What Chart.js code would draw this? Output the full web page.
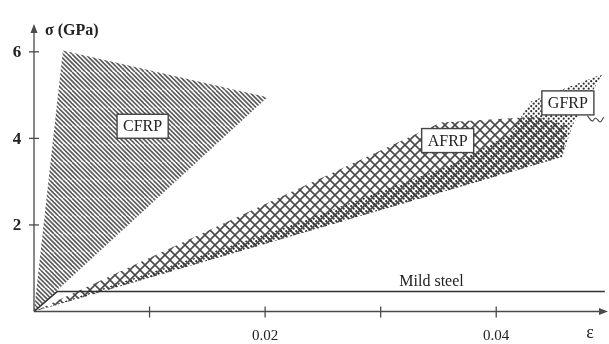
<!DOCTYPE html>
<html>
<head>
<meta charset="utf-8">
<script src="https://cdn.jsdelivr.net/npm/chart.js@4.4.0/dist/chart.umd.min.js"></script>
<style>
    html, body { margin: 0; padding: 0; background: #fff; }
    #wrap { width: 609px; height: 344px; position: relative; }
</style>
</head>
<body>
<div id="wrap"><canvas id="chart"></canvas></div>
<script>
// outlines of the regions, strain (-) against stress (GPa)
const cfrpStrain = [0, 0.0025, 0.0202, 0];
const cfrpStress = [0, 6.03, 4.95, 0];

const afrpStrain = [0, 0.0352, 0.0434, 0.0462, 0.0457, 0];
const afrpStress = [0, 4.37, 4.50, 4.30, 3.57, 0];

const gfrpStrain = [0, 0.0457, 0.0466, 0.0492, 0.0430, 0.0412, 0.0361, 0.0213, 0];
const gfrpStress = [0, 3.57, 4.30, 5.49, 4.85, 4.10, 3.39, 1.90, 0];

const steelStrain = [0, 0.002, 0.0494];
const steelStress = [0, 0.46, 0.46];

// little break mark right of the GFRP box
const breakStrain = [0.0479, 0.0483, 0.0486, 0.0490, 0.0493];
const breakStress = [4.52, 4.40, 4.47, 4.38, 4.49];

const xTicks = [0.01, 0.02, 0.03, 0.04];
const xTickLabels = ["", "0.02", "", "0.04"];
const yTicks = [2, 4, 6];
const yTickLabels = ["2", "4", "6"];

const FONT = "'Liberation Serif', 'DejaVu Serif', serif";

function points(xs, ys) {
    return xs.map((v, i) => ({x: v, y: ys[i]}));
}

function makePattern(size, draw) {
    const c = document.createElement("canvas");
    c.width = size;
    c.height = size;
    const g = c.getContext("2d");
    draw(g, size);
    return g.createPattern(c, "repeat");
}

// "\" stripes for CFRP
const stripes = makePattern(18, (g, s) => {
    g.strokeStyle = "#5a5a5a";
    g.lineWidth = 1.6;
    for (let k = -s; k <= 2 * s; k += 4.5) {
        g.beginPath();
        g.moveTo(k, 0);
        g.lineTo(k + s, s);
        g.stroke();
    }
});

// diamond cross hatch for AFRP
const crosshatch = makePattern(10, (g, s) => {
    g.strokeStyle = "#4a4a4a";
    g.lineWidth = 1.6;
    for (let k = -s; k <= s; k += s) {
        g.beginPath();
        g.moveTo(k, 0);
        g.lineTo(k + s, s);
        g.moveTo(k + s, 0);
        g.lineTo(k, s);
        g.stroke();
    }
});

// dense dots for GFRP
const dots = makePattern(5, (g, s) => {
    g.fillStyle = "#333";
    g.beginPath();
    g.arc(1.2, 1.2, 1.1, 0, Math.PI * 2);
    g.arc(3.7, 3.7, 1.1, 0, Math.PI * 2);
    g.fill();
});

const labelBoxes = [
    {text: "CFRP", x: 0.0094, y: 4.28},
    {text: "AFRP", x: 0.0358, y: 3.95},
    {text: "GFRP", x: 0.0462, y: 4.82},
];

const axesPlugin = {
    id: "axes",
    afterDatasetsDraw(chart) {
        const {ctx, scales: {x, y}} = chart;
        const x0 = x.getPixelForValue(0);
        const y0 = y.getPixelForValue(0);
        const xEnd = 608;
        const yEnd = 24;
        ctx.save();
        ctx.strokeStyle = "#4a4a4a";
        ctx.fillStyle = "#4a4a4a";
        ctx.lineWidth = 1.3;
        ctx.beginPath();
        ctx.moveTo(x0, y0);
        ctx.lineTo(xEnd - 6, y0);
        ctx.moveTo(x0, y0);
        ctx.lineTo(x0, yEnd + 6);
        ctx.stroke();

        // arrow heads
        ctx.beginPath();
        ctx.moveTo(xEnd, y0);
        ctx.lineTo(xEnd - 9, y0 - 3.5);
        ctx.lineTo(xEnd - 9, y0 + 3.5);
        ctx.closePath();
        ctx.moveTo(x0, yEnd);
        ctx.lineTo(x0 - 3.5, yEnd + 9);
        ctx.lineTo(x0 + 3.5, yEnd + 9);
        ctx.closePath();
        ctx.fill();

        ctx.fillStyle = "#222";
        ctx.textAlign = "center";
        ctx.textBaseline = "middle";
        ctx.font = `15px ${FONT}`;
        xTicks.forEach((v, i) => {
            const px = x.getPixelForValue(v);
            ctx.beginPath();
            ctx.moveTo(px, y0 - 5);
            ctx.lineTo(px, y0 + 6);
            ctx.stroke();
            if (xTickLabels[i]) ctx.fillText(xTickLabels[i], px, y0 + 25);
        });

        ctx.font = `bold 17px ${FONT}`;
        yTicks.forEach((v, i) => {
            const py = y.getPixelForValue(v);
            ctx.beginPath();
            ctx.moveTo(x0 - 5, py);
            ctx.lineTo(x0 + 5, py);
            ctx.stroke();
            ctx.fillText(yTickLabels[i], 17, py + 1);
        });

        ctx.textAlign = "left";
        ctx.font = `bold 16px ${FONT}`;
        ctx.fillText("σ (GPa)", 45, 31);
        ctx.font = `18px ${FONT}`;
        ctx.textAlign = "center";
        ctx.fillText("ε", 590, 333);

        ctx.font = `16px ${FONT}`;
        ctx.fillText("Mild steel", x.getPixelForValue(0.0344), y.getPixelForValue(0.68));

        labelBoxes.forEach(b => {
            const cx = x.getPixelForValue(b.x);
            const cy = y.getPixelForValue(b.y);
            const w = ctx.measureText(b.text).width + 12;
            const h = 24;
            ctx.fillStyle = "#fff";
            ctx.fillRect(cx - w / 2, cy - h / 2, w, h);
            ctx.strokeStyle = "#444";
            ctx.lineWidth = 1.4;
            ctx.strokeRect(cx - w / 2, cy - h / 2, w, h);
            ctx.fillStyle = "#222";
            ctx.fillText(b.text, cx, cy + 1);
        });
        ctx.restore();
    }
};

const region = (label, data, fillStyle, order) => ({
    label,
    data,
    showLine: true,
    fill: "shape",
    backgroundColor: fillStyle,
    borderWidth: 0,
    borderColor: "rgba(0,0,0,0)",
    pointRadius: 0,
    order,
});

new Chart(document.getElementById("chart"), {
    type: "scatter",
    data: {
        datasets: [
            region("AFRP", points(afrpStrain, afrpStress), crosshatch, 5),
            region("GFRP", points(gfrpStrain, gfrpStress), dots, 4),
            region("CFRP", points(cfrpStrain, cfrpStress), stripes, 3),
            {
                label: "Mild steel",
                data: points(steelStrain, steelStress),
                showLine: true,
                borderColor: "#333",
                borderWidth: 1.5,
                pointRadius: 0,
                order: 2,
            },
            {
                label: "break",
                data: points(breakStrain, breakStress),
                showLine: true,
                tension: 0.4,
                borderColor: "#444",
                borderWidth: 1.1,
                pointRadius: 0,
                order: 1,
            },
        ]
    },
    options: {
        responsive: true,
        maintainAspectRatio: false,
        animation: false,
        layout: {padding: {left: 34, right: 3, top: 25, bottom: 32.5}},
        plugins: {legend: {display: false}, tooltip: {enabled: false}},
        scales: {
            x: {type: "linear", min: 0, max: 0.0495, display: false},
            y: {type: "linear", min: 0, max: 6.62, display: false},
        }
    },
    plugins: [axesPlugin]
});
</script>
</body>
</html>
